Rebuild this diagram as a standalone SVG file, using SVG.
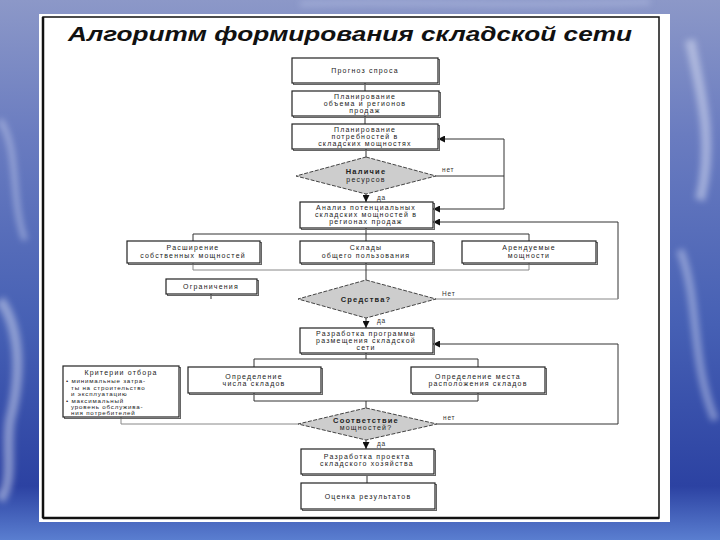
<svg xmlns="http://www.w3.org/2000/svg" width="720" height="540" viewBox="0 0 720 540">
<defs>
<linearGradient id="bg" x1="0" y1="0" x2="0" y2="1">
<stop offset="0" stop-color="#8c98c8"/>
<stop offset="0.25" stop-color="#6a7cc0"/>
<stop offset="0.6" stop-color="#4660b4"/>
<stop offset="0.9" stop-color="#2c42a2"/>
<stop offset="1" stop-color="#5a7ed0"/>
</linearGradient>
<filter id="blur" x="-20%" y="-20%" width="140%" height="140%"><feGaussianBlur stdDeviation="3"/></filter>
<marker id="ah" viewBox="0 0 8 8" refX="8" refY="4" markerWidth="7" markerHeight="7" markerUnits="userSpaceOnUse" orient="auto">
<path d="M0,0 L8,4 L0,8 z" fill="#111"/>
</marker>
<style>
.box{fill:#fff;stroke:#222;stroke-width:1.2}
.sh{fill:none;stroke:#666;stroke-width:1}
.dia{fill:#cdcdcd;stroke:#444;stroke-width:1;stroke-dasharray:4 1.5}
.t{font-family:"Liberation Sans",Arial,sans-serif;font-size:7px;fill:#222;letter-spacing:1.2px;text-anchor:middle}
.b{font-weight:bold;font-size:7.5px}
.lb{font-family:"Liberation Sans",Arial,sans-serif;font-size:6.5px;fill:#333;letter-spacing:0.8px}
.cr{font-family:"Liberation Sans",Arial,sans-serif;font-size:6.2px;fill:#222;letter-spacing:0.8px}
.c{stroke:#333;stroke-width:1;fill:none}
.cf{stroke:#888;stroke-width:1;fill:none}
</style>
</defs>
<rect x="0" y="0" width="720" height="540" fill="url(#bg)"/>
<g filter="url(#blur)" opacity="0.5">
<path d="M0,300 C15,320 25,360 10,420 C5,450 15,480 0,500" stroke="#d8def2" stroke-width="10" fill="none"/>
<path d="M0,120 C20,150 10,200 25,240" stroke="#c8d0ee" stroke-width="6" fill="none"/>
<path d="M690,40 C700,90 715,140 700,200" stroke="#dfe4f6" stroke-width="10" fill="none"/>
<path d="M680,250 C700,300 690,360 715,420" stroke="#c8d0ee" stroke-width="8" fill="none"/>
<path d="M300,4 C400,0 500,8 650,2" stroke="#b8c2e6" stroke-width="5" fill="none"/>
</g>
<rect x="39" y="14" width="631" height="508" fill="#fff"/>
<rect x="43" y="17" width="616" height="501" fill="none" stroke="#111" stroke-width="1.5"/>
<line x1="43" y1="17" x2="43" y2="518" stroke="#111" stroke-width="2.5"/>
<line x1="43" y1="518" x2="659" y2="518" stroke="#111" stroke-width="2.5"/>
<text id="title" x="68" y="41" font-family="'Liberation Sans',Arial,sans-serif" font-size="20" font-style="italic" font-weight="bold" fill="#111" textLength="564" lengthAdjust="spacingAndGlyphs">Алгоритм формирования складской сети</text>

<g id="connectors">
<path class="c" d="M365,83 V91 M365,116 V124 M366,149 V157"/>
<path class="c" d="M366,194 V202" marker-end="url(#ah)"/>
<path class="c" d="M436,176 H504 V139 H438" marker-end="url(#ah)"/>
<path class="c" d="M504,176 V209 H433" marker-end="url(#ah)"/>
<path class="c" d="M618,299 V222 H433" marker-end="url(#ah)"/>
<path class="cf" d="M436,299 H618"/>
<path class="c" d="M366,228 V241 M193,241 V234 H529 V241"/>
<path class="cf" d="M193,263 V270 H529 V263"/>
<path class="c" d="M366,263 V280"/>
<path class="c" d="M211,294 V299"/>
<path class="c" d="M366,318 V328" marker-end="url(#ah)"/>
<path class="c" d="M437,424 H618 V344 H433" marker-end="url(#ah)"/>
<path class="c" d="M366,353 V359 M254,367 V359 H478 V367"/>
<path class="c" d="M254,393 V401 H478 V393 M366,401 V408"/>
<path class="cf" d="M121,417 V424 H298"/>
<path class="c" d="M366,440 V449" marker-end="url(#ah)"/>
<path class="c" d="M367,475 V483"/>
</g>

<g id="n1"><rect class="sh" x="293.5" y="59.5" width="146" height="25"/><rect class="box" x="292" y="58" width="146" height="25"/><text class="t" x="365" y="73">Прогноз спроса</text></g>
<g id="n2"><rect class="sh" x="293.5" y="92.5" width="147" height="25"/><rect class="box" x="292" y="91" width="147" height="25"/><text class="t" x="365" y="98.5">Планирование</text><text class="t" x="365" y="105.8">объема и регионов</text><text class="t" x="365" y="113.1">продаж</text></g>
<g id="n3"><rect class="sh" x="293.5" y="125.5" width="146" height="25"/><rect class="box" x="292" y="124" width="146" height="25"/><text class="t" x="365" y="131.5">Планирование</text><text class="t" x="365" y="138.8">потребностей в</text><text class="t" x="365" y="146.1">складских мощностях</text></g>
<g id="d1"><polygon class="dia" points="366,157 436,176 366,194 296,176"/><text class="t b" x="366" y="173.5">Наличие</text><text class="t" x="366" y="181.5">ресурсов</text><text class="lb" x="442" y="172">нет</text><text class="lb" x="377" y="200">да</text></g>
<g id="n4"><rect class="sh" x="301.5" y="203.5" width="133" height="26"/><rect class="box" x="300" y="202" width="133" height="26"/><text class="t" x="366" y="209.8">Анализ потенциальных</text><text class="t" x="366" y="217.1">складских мощностей в</text><text class="t" x="366" y="224.4">регионах продаж</text></g>
<g id="r1"><rect class="sh" x="128.5" y="242.5" width="133" height="22"/><rect class="box" x="127" y="241" width="133" height="22"/><text class="t" x="193" y="250">Расширение</text><text class="t" x="193" y="257.5">собственных мощностей</text></g>
<g id="r2"><rect class="sh" x="301.5" y="242.5" width="133" height="22"/><rect class="box" x="300" y="241" width="133" height="22"/><text class="t" x="366" y="250">Склады</text><text class="t" x="366" y="257.5">общего пользования</text></g>
<g id="r3"><rect class="sh" x="463.5" y="242.5" width="134" height="22"/><rect class="box" x="462" y="241" width="134" height="22"/><text class="t" x="529" y="250">Арендуемые</text><text class="t" x="529" y="257.5">мощности</text></g>
<g id="lim"><rect class="sh" x="167.5" y="280.5" width="91" height="15"/><rect class="box" x="166" y="279" width="91" height="15"/><text class="t" x="211" y="289">Ограничения</text></g>
<g id="d2"><polygon class="dia" points="366,280 436,299 366,318 298,299"/><text class="t b" x="366" y="302">Средства?</text><text class="lb" x="442" y="296">Нет</text><text class="lb" x="377" y="323">да</text></g>
<g id="n5"><rect class="sh" x="301.5" y="329.5" width="133" height="25"/><rect class="box" x="300" y="328" width="133" height="25"/><text class="t" x="366" y="335.5">Разработка программы</text><text class="t" x="366" y="342.8">размещения складской</text><text class="t" x="366" y="350.1">сети</text></g>
<g id="crit"><rect class="sh" x="64.5" y="367.5" width="116" height="51"/><rect class="box" x="63" y="366" width="116" height="51"/><text class="t" x="121" y="374.5">Критерии отбора</text><text class="cr" x="66" y="383">• минимальные затра-</text><text class="cr" x="71" y="389.5">ты на строительство</text><text class="cr" x="71" y="396">и эксплуатацию</text><text class="cr" x="66" y="402.5">• максимальный</text><text class="cr" x="71" y="409">уровень обслужива-</text><text class="cr" x="71" y="415">ния потребителей</text></g>
<g id="o1"><rect class="sh" x="189.5" y="368.5" width="133" height="26"/><rect class="box" x="188" y="367" width="133" height="26"/><text class="t" x="254" y="378.5">Определение</text><text class="t" x="254" y="386">числа складов</text></g>
<g id="o2"><rect class="sh" x="412.5" y="368.5" width="134" height="26"/><rect class="box" x="411" y="367" width="134" height="26"/><text class="t" x="478" y="378.5">Определение места</text><text class="t" x="478" y="386">расположения складов</text></g>
<g id="d3"><polygon class="dia" points="366,408 437,424 366,440 298,424"/><text class="t b" x="366" y="422.5">Соответствие</text><text class="t" x="366" y="430">мощностей?</text><text class="lb" x="443" y="420">нет</text><text class="lb" x="377" y="446">да</text></g>
<g id="n6"><rect class="sh" x="302.5" y="450.5" width="133" height="25"/><rect class="box" x="301" y="449" width="133" height="25"/><text class="t" x="367" y="458.5">Разработка проекта</text><text class="t" x="367" y="466">складского хозяйства</text></g>
<g id="n7"><rect class="sh" x="302.5" y="484.5" width="134" height="26"/><rect class="box" x="301" y="483" width="134" height="26"/><text class="t" x="368" y="498.5">Оценка результатов</text></g>
</svg>
